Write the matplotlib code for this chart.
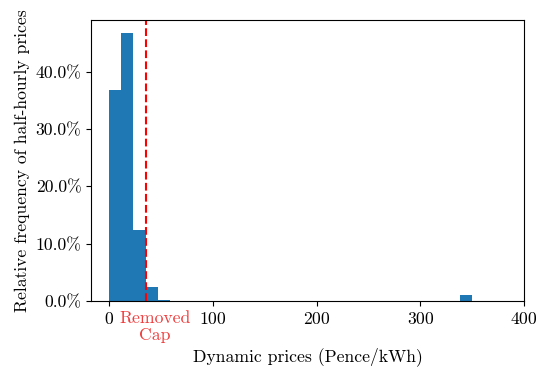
import numpy as np
import matplotlib
matplotlib.use("Agg")
import matplotlib.pyplot as plt
from matplotlib.ticker import PercentFormatter

plt.rcParams['font.family'] = 'serif'
plt.rcParams['font.serif'] = ['cmr10', 'DejaVu Serif']
plt.rcParams['mathtext.fontset'] = 'cm'
plt.rcParams['axes.formatter.use_mathtext'] = True
plt.rcParams['font.size'] = 12.7

# 30 bins of equal width between 0 and 350 p/kWh
bin_lo = 0
bin_hi = 350
n_bins = 30
# relative frequency per bin (%)
freq = [36.8, 46.7, 12.3, 2.5, 0.25, 0.04, 0.03, 0.03, 0.03, 0.03,
        0.03, 0.03, 0.03, 0.03, 0.03, 0.03, 0.03, 0.03, 0.03, 0.03,
        0.03, 0.03, 0.03, 0.03, 0.03, 0.03, 0.03, 0.03, 0.03, 1.05]
cap = 35.0
xticks = [0, 100, 200, 300, 400]

edges = np.linspace(bin_lo, bin_hi, n_bins + 1)
centers = (edges[:-1] + edges[1:]) / 2

fig = plt.figure(figsize=(5.36, 3.72), dpi=100)
ax = fig.add_axes([0.170, 0.191, 0.808, 0.755])
ax.hist(centers, bins=edges, weights=freq, color='#1f77b4')
ax.axvline(cap, color='red', linestyle='--', linewidth=1.5)

ax.set_xlim(right=400)
ax.set_xticks(xticks)
ax.yaxis.set_major_formatter(PercentFormatter(100, decimals=1))
ax.text(cap + 9, -0.035, 'Removed\nCap', color='#f03c3c', ha='center', va='top',
        transform=ax.get_xaxis_transform(), linespacing=1.15)

ax.set_xlabel('Dynamic prices (Pence/kWh)', labelpad=15)
ax.set_ylabel('Relative frequency of half-hourly prices')

fig.savefig('out.png', dpi=100)
